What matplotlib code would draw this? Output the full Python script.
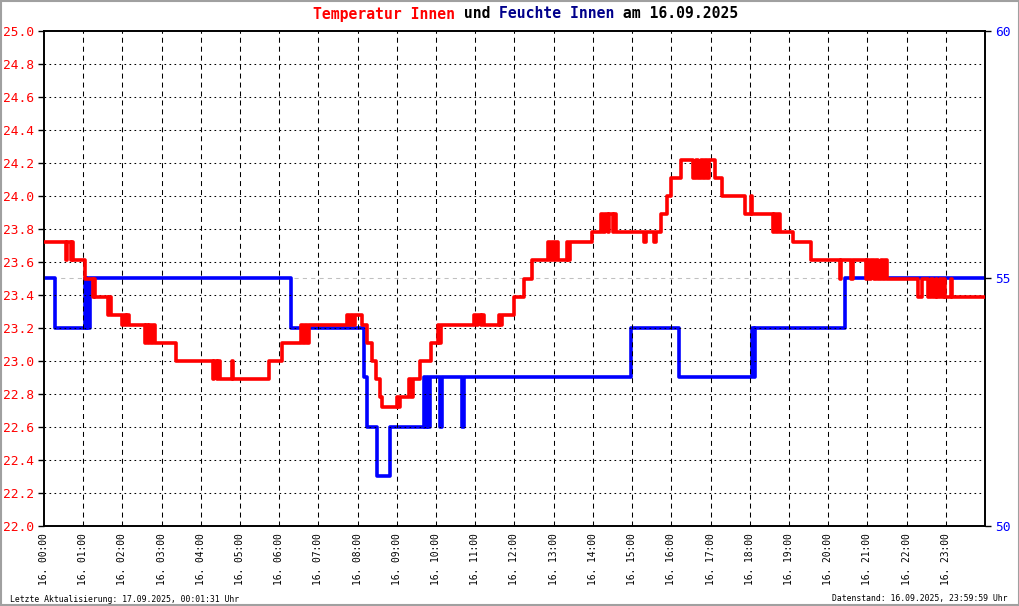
# Temperatur / Feuchte Innen, 16.09.2025
# step chart with two y axes

import matplotlib
matplotlib.use("Agg")
import matplotlib.pyplot as plt
from matplotlib.patches import Rectangle

# -----------------------------------
# Data
# -----------------------------------
# hour of day where the temperature value changes
temp_hours = [
    0.00, 0.56, 0.59, 0.69, 0.72, 0.74, 1.04, 1.25, 1.28, 1.31,
    1.63, 1.66, 1.70, 2.00, 2.04, 2.08, 2.12, 2.16, 2.57, 2.60,
    2.64, 2.69, 2.74, 2.79, 2.83, 3.36, 4.30, 4.34, 4.40, 4.45,
    4.50, 4.80, 4.83, 5.75, 6.08, 6.56, 6.60, 6.65, 6.70, 6.75,
    7.74, 7.78, 7.83, 7.87, 7.92, 8.12, 8.25, 8.36, 8.47, 8.57,
    8.63, 9.00, 9.04, 9.09, 9.31, 9.35, 9.40, 9.60, 9.87, 10.05,
    10.08, 10.13, 10.97, 11.02, 11.08, 11.14, 11.18, 11.22, 11.60, 11.64,
    11.68, 11.98, 12.24, 12.44, 12.85, 12.90, 12.95, 13.02, 13.05, 13.10,
    13.33, 13.37, 13.42, 13.97, 14.20, 14.26, 14.30, 14.38, 14.42, 14.50,
    14.53, 14.58, 15.30, 15.35, 15.55, 15.60, 15.73, 15.88, 16.00, 16.25,
    16.56, 16.62, 16.68, 16.76, 16.80, 16.86, 16.92, 16.96, 17.12, 17.28,
    17.89, 18.02, 18.06, 18.60, 18.63, 18.68, 18.72, 18.78, 19.10, 19.57,
    20.30, 20.34, 20.58, 20.64, 20.97, 21.00, 21.05, 21.10, 21.16, 21.22,
    21.28, 21.34, 21.40, 21.45, 21.50, 22.29, 22.40, 22.55, 22.62, 22.67,
    22.74, 22.78, 22.84, 22.90, 22.96, 22.99, 23.13, 23.17, 24.00,
]
temp_values = [
    23.72, 23.61, 23.72, 23.61, 23.72, 23.61, 23.50, 23.39, 23.50, 23.39,
    23.28, 23.39, 23.28, 23.22, 23.28, 23.22, 23.28, 23.22, 23.11, 23.22,
    23.11, 23.22, 23.11, 23.22, 23.11, 23.00, 22.89, 23.00, 22.89, 23.00,
    22.89, 23.00, 22.89, 23.00, 23.11, 23.22, 23.11, 23.22, 23.11, 23.22,
    23.28, 23.22, 23.28, 23.22, 23.28, 23.22, 23.11, 23.00, 22.89, 22.78,
    22.72, 22.78, 22.72, 22.78, 22.89, 22.78, 22.89, 23.00, 23.11, 23.22,
    23.11, 23.22, 23.28, 23.22, 23.28, 23.22, 23.28, 23.22, 23.28, 23.22,
    23.28, 23.39, 23.50, 23.61, 23.72, 23.61, 23.72, 23.61, 23.72, 23.61,
    23.72, 23.61, 23.72, 23.78, 23.89, 23.78, 23.89, 23.78, 23.89, 23.78,
    23.89, 23.78, 23.72, 23.78, 23.72, 23.78, 23.89, 24.00, 24.11, 24.22,
    24.11, 24.22, 24.11, 24.22, 24.11, 24.22, 24.11, 24.22, 24.11, 24.00,
    23.89, 24.00, 23.89, 23.78, 23.89, 23.78, 23.89, 23.78, 23.72, 23.61,
    23.50, 23.61, 23.50, 23.61, 23.50, 23.61, 23.50, 23.61, 23.50, 23.61,
    23.50, 23.61, 23.50, 23.61, 23.50, 23.39, 23.50, 23.39, 23.50, 23.39,
    23.50, 23.39, 23.50, 23.39, 23.50, 23.39, 23.50, 23.39, 23.39,
]

hum_hours = [
    0.00, 0.28, 1.04, 1.07, 1.10, 1.13, 1.17, 6.31, 8.17, 8.25,
    8.50, 8.83, 9.70, 9.73, 9.77, 9.80, 9.84, 10.10, 10.14, 10.66,
    10.70, 14.96, 16.20, 18.07, 18.10, 18.13, 20.43, 24.00,
]
hum_values = [
    55, 54, 55, 54, 55, 54, 55, 54, 53, 52,
    51, 52, 53, 52, 53, 52, 53, 52, 53, 52,
    53, 54, 53, 54, 53, 54, 55, 55,
]

hour_labels = ["16. %02d:00" % h for h in range(24)]
temp_ticks = [22.0 + 0.2 * i for i in range(16)]
hum_ticks = [50, 55, 60]

# -----------------------------------
# Figure
# -----------------------------------
W, H = 1020, 606
fig = plt.figure(figsize=(W / 100, H / 100), dpi=100)
fig.patch.set_facecolor("white")
mono = "DejaVu Sans Mono"

ax = fig.add_axes([44 / W, 1 - 526 / H, (985 - 44) / W, (526 - 31) / H])
ax2 = ax.twinx()

ax.set_xlim(0, 24)
ax.set_ylim(22.0, 25.0)
ax2.set_ylim(50, 60)

# grid lines drawn by hand: dashed vertical, dotted horizontal
for h in range(1, 24):
    ax.axvline(h, color="black", lw=0.75, ls=(0, (4.8, 3.8)), zorder=1)
for t in temp_ticks[1:-1]:
    ax.axhline(t, color="black", lw=0.75, ls=(0, (1.6, 3.2)), zorder=1)
ax2.axhline(55, color="#c0c0c0", lw=0.75, ls=(0, (4.0, 4.0)), zorder=1)

ax2.step(hum_hours, hum_values, where="post", color="#0000ff", lw=2.6, zorder=3)
ax.step(temp_hours, temp_values, where="post", color="#ff0000", lw=2.6, zorder=4)

# draw temperature above humidity
ax.set_zorder(ax2.get_zorder() + 1)
ax.patch.set_visible(False)

ax.set_xticks(range(24))
ax.set_xticklabels(hour_labels, rotation=90, fontsize=6.9, family=mono,
                   va="top", ha="center")
ax.tick_params(axis="x", length=0, pad=5)

ax.set_yticks(temp_ticks)
ax.set_yticklabels(["%.1f" % t for t in temp_ticks], family=mono,
                   fontsize=9.3, color="#ff0000")
ax.tick_params(axis="y", length=4, width=1, pad=3.5, direction="out")

ax2.set_yticks(hum_ticks)
ax2.set_yticklabels([str(v) for v in hum_ticks], family=mono,
                    fontsize=9.3, color="#0000ff")
ax2.tick_params(axis="y", length=4, width=1, pad=3.5, direction="out")

for a in (ax, ax2):
    for s in a.spines.values():
        s.set_linewidth(1.2)
        s.set_color("black")

# -----------------------------------
# Title in several colours (monospace, so place by character count)
# -----------------------------------
title_parts = [
    ("Temperatur Innen", "#ff0000"),
    (" und ", "black"),
    ("Feuchte Innen", "#00008b"),
    (" am 16.09.2025", "black"),
]
title_size = 10.6
cw = 0.602 * title_size * 100 / 72  # px per character
x0 = 313
for txt, col in title_parts:
    fig.text(x0 / W, 1 - 14 / H, txt, color=col, family=mono,
             fontsize=title_size, fontweight="bold", ha="left", va="center")
    x0 += len(txt) * cw

fig.text(10 / W, 1 - 599 / H, "Letzte Aktualisierung: 17.09.2025, 00:01:31 Uhr",
         family=mono, fontsize=5.9, ha="left", va="center")
fig.text(1008 / W, 1 - 599 / H, "Datenstand: 16.09.2025, 23:59:59 Uhr",
         family=mono, fontsize=5.9, ha="right", va="center")

# grey frame around the picture
fig.patches.append(Rectangle((0.001, 0.001), 0.998, 0.997, transform=fig.transFigure,
                             fill=False, edgecolor="#a0a0a0", lw=1.5))

fig.savefig("out.png", dpi=100)
